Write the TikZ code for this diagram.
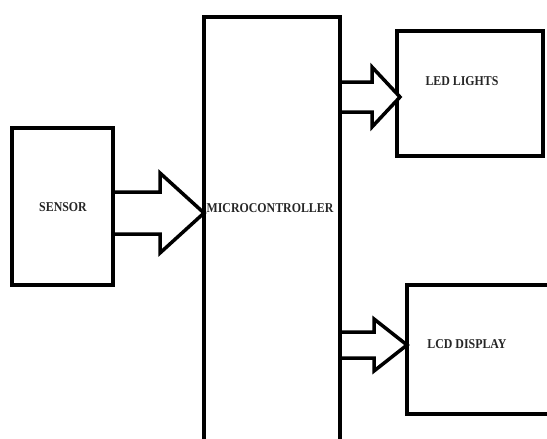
\documentclass[tikz,border=0pt]{standalone}
\usepackage{fontspec}
\setmainfont{Liberation Serif}
\usetikzlibrary{calc}
\begin{document}
\begin{tikzpicture}[x=1pt,y=-1pt,
  blockbox/.style={draw=black,line width=4pt,fill=white,inner sep=0pt,anchor=north west},
  lbl/.style={font=\fontsize{13.5}{15}\selectfont\bfseries,inner sep=0pt,text=black!85,xscale=0.88},
  fatarrow/.style={draw=black,line width=3.5pt,line join=miter,fill=white}]
\useasboundingbox (0,0) rectangle (547,439);
\clip (0,0) rectangle (547,439);
\fill[white] (0,0) rectangle (547,439);
% boxes
\node[blockbox,minimum width=101pt,minimum height=157pt] (sensor) at (10,126) {};
\node[blockbox,minimum width=136pt,minimum height=460pt] (mcu) at (202,15) {};
\node[blockbox,minimum width=146pt,minimum height=125pt] (led) at (395,29) {};
\node[blockbox,minimum width=160pt,minimum height=129pt] (lcd) at (405,283) {};
% labels
\node[lbl] (sensortxt) at (63,207) {SENSOR};
\node[lbl] (mcutxt) at (270,208) {MICROCONTROLLER};
\node[lbl] (ledtxt) at (462,81) {LED LIGHTS};
\node[lbl] (lcdtxt) at (467,344) {LCD DISPLAY};
% fat arrows
\coordinate (a1) at (sensor.east |- 0,213);
\draw[fatarrow] ($(a1)+(0,-21)$) -- ++(45,0) -- ++(0,-19) -- ($(a1)+(89,0)$)
  -- ($(a1)+(45,40)$) -- ++(0,-19) -- ($(a1)+(0,21)$);
\coordinate (a2) at (mcu.east |- 0,97);
\draw[fatarrow] ($(a2)+(0,-15)$) -- ++(30,0) -- ++(0,-15) -- ($(a2)+(58,0)$)
  -- ($(a2)+(30,30)$) -- ++(0,-15) -- ($(a2)+(0,15)$);
\coordinate (a3) at (mcu.east |- 0,345);
\draw[fatarrow] ($(a3)+(0,-13)$) -- ++(32,0) -- ++(0,-13) -- ($(a3)+(65,0)$)
  -- ($(a3)+(32,26)$) -- ++(0,-13) -- ($(a3)+(0,13)$);
\end{tikzpicture}
\end{document}
